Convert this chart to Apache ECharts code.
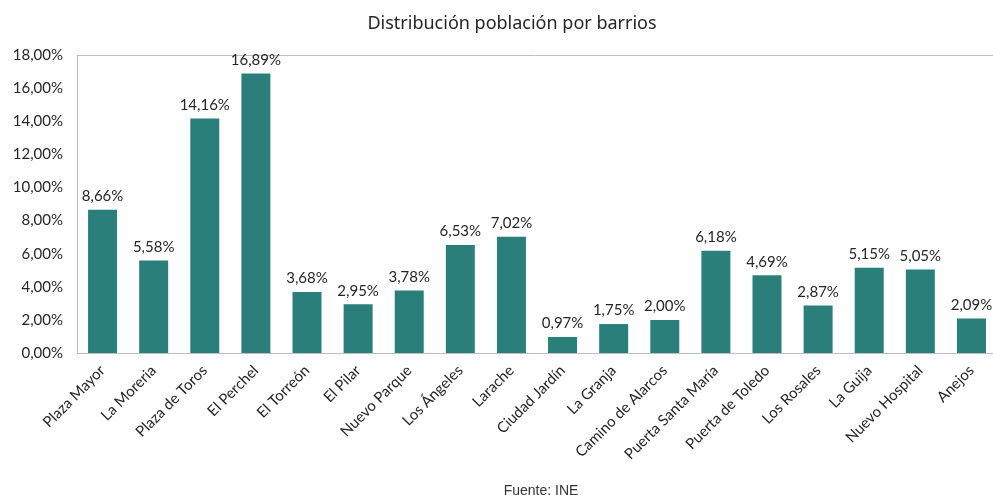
<!DOCTYPE html>
<html>
<head>
<meta charset="utf-8">
<script src="https://cdn.jsdelivr.net/npm/echarts@6/dist/echarts.min.js"></script>
<style>html,body{margin:0;padding:0;background:#fff}#c{width:993px;height:495px}</style>
</head>
<body>
<div id="c"></div>
<script>
var categories = ["Plaza Mayor","La Moreria","Plaza de Toros","El Perchel","El Torreón","El Pilar","Nuevo Parque","Los Ángeles","Larache","Ciudad Jardín","La Granja","Camino de Alarcos","Puerta Santa María","Puerta de Toledo","Los Rosales","La Guija","Nuevo Hospital","Anejos"];
var values = [8.66,5.58,14.16,16.89,3.68,2.95,3.78,6.53,7.02,0.97,1.75,2.00,6.18,4.69,2.87,5.15,5.05,2.09];
var yTicks = {min:0, max:18, interval:2};
function fmt(v){ return v.toFixed(2).replace('.', ',') + '%'; }
var chart = echarts.init(document.getElementById('c'));
chart.setOption({
  animation:false,
  backgroundColor:'#fff',
  title:[{text:'Distribución población por barrios', left:507, top:10, textAlign:'center',
    textStyle:{fontFamily:'Noto Sans', fontSize:18, fontWeight:'normal', color:'#262626'}},
    {text:'Fuente: INE', left:536, top:479, textAlign:'center',
    textStyle:{fontFamily:'Liberation Sans', fontSize:14, fontWeight:'normal', color:'#333'}}],
  grid:{left:77, top:55, width:920, height:298, show:false, outerBoundsMode:'none', containLabel:false},
  xAxis:[{type:'category', data:categories,
    axisLine:{lineStyle:{color:'#bfbfbf'}}, axisTick:{show:false},
    axisLabel:{rotate:45, interval:0, margin:15, fontFamily:'Lato', fontSize:15, color:'#262626'}},
    {type:'category', data:categories, position:'top',
    axisLine:{show:true, lineStyle:{color:'#bfbfbf'}}, axisTick:{show:false}, axisLabel:{show:false}}],
  yAxis:{type:'value', min:yTicks.min, max:yTicks.max, interval:yTicks.interval,
    axisLine:{show:true, lineStyle:{color:'#bfbfbf'}}, axisTick:{show:false}, splitLine:{show:false},
    axisLabel:{margin:14, fontFamily:'Lato', fontSize:15, color:'#262626', formatter:fmt}},
  series:[{type:'bar', data:values, barWidth:29, itemStyle:{color:'#2b7f7b'},
    label:{show:true, position:'top', distance:6, fontFamily:'Lato', fontSize:15, color:'#262626',
      formatter:function(p){return fmt(p.value);}}}]
});
</script>
</body>
</html>
